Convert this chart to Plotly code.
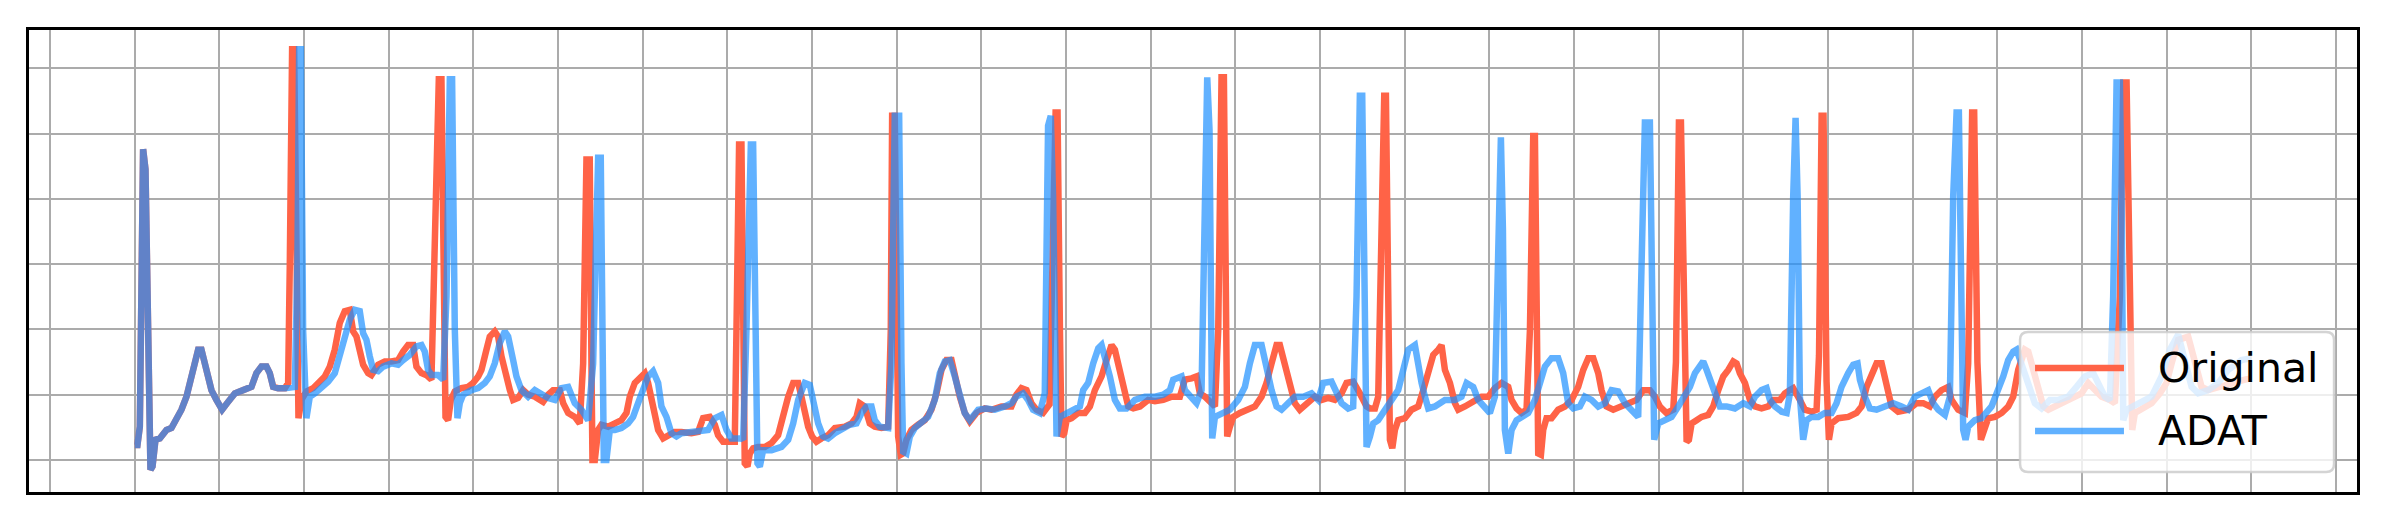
import plotly.graph_objects as go

# ECG segment, 2500 samples (grid every 100), amplitude in grid units
RED = "#FF6347"
BLUE = "rgba(30,144,255,0.7)"

# shared first beat: both signals coincide here
lead = [(0, 0.23), (3.1, 0.23), (5.9, 0.51), (9.8, 4.76), (12.6, 4.45), (15.7, 1.48), (18.5, -0.15),
        (20.9, -0.10), (24.4, 0.31), (29.5, 0.33), (33.4, 0.38), (37.4, 0.46), (43.3, 0.49), (49.2, 0.61),
        (55.1, 0.77), (61.0, 0.97), (68.9, 1.43), (74.8, 1.69), (78.7, 1.69), (82.7, 1.48), (86.6, 1.23),
        (90.5, 1.07), (96.4, 0.92), (103.1, 0.77), (110.2, 0.89), (118.1, 1.02), (128.0, 1.07),
        (137.8, 1.12), (143.7, 1.33), (149.6, 1.43), (155.5, 1.43), (159.4, 1.33), (163.4, 1.12),
        (169.3, 1.10), (177.2, 1.10)]

original = [
    (181.1, 1.18), (183.1, 3.02), (185.8, 6.29), (188.2, 6.29), (191.7, 0.97), (193.3, 0.64), (196.8, 0.92),
    (202.7, 1.05), (210.6, 1.10), (216.5, 1.18), (224.4, 1.28), (230.3, 1.43), (236.2, 1.69), (242.1, 2.10),
    (248.0, 2.28), (253.9, 2.30), (257.9, 1.97), (261.8, 1.89), (265.7, 1.69), (269.7, 1.46), (275.6, 1.33),
    (279.5, 1.30), (287.4, 1.46), (295.3, 1.51), (303.1, 1.51), (311.0, 1.53), (316.9, 1.66), (322.8, 1.76),
    (328.7, 1.76), (332.7, 1.43), (338.6, 1.33), (344.5, 1.30), (350.4, 1.23), (354.4, 3.02), (359.1, 5.83),
    (362.2, 5.83), (365.4, 1.99), (367.0, 0.66), (370.1, 0.61), (373.3, 0.92), (378.0, 1.05), (385.9, 1.10),
    (393.7, 1.12), (399.6, 1.18), (405.6, 1.28), (409.5, 1.38), (415.4, 1.69), (419.3, 1.89), (425.2, 1.97),
    (429.2, 1.89), (433.1, 1.59), (439.0, 1.23), (443.0, 1.07), (446.9, 0.92), (452.8, 0.95), (458.7, 1.07),
    (464.6, 1.00), (472.5, 0.97), (482.3, 0.89), (488.2, 1.00), (494.1, 1.07), (502.0, 1.07), (506.0, 0.87),
    (511.9, 0.72), (519.7, 0.66), (525.6, 0.56), (529.6, 1.48), (533.5, 4.60), (537.4, 4.60), (539.4, 1.48),
    (540.6, 0.00), (543.4, 0.00), (547.3, 0.46), (551.2, 0.54), (559.1, 0.51), (567.0, 0.56), (574.8, 0.61),
    (580.8, 0.72), (584.7, 0.97), (590.6, 1.18), (596.5, 1.25), (602.4, 1.33), (606.3, 1.18), (610.3, 0.92),
    (614.2, 0.61), (618.2, 0.46), (624.1, 0.33), (630.0, 0.38), (637.8, 0.43), (645.7, 0.43), (657.5, 0.41),
    (665.4, 0.43), (671.3, 0.64), (679.2, 0.66), (685.1, 0.54), (689.0, 0.38), (694.9, 0.28), (702.8, 0.28),
    (708.7, 0.28), (710.7, 1.99), (713.8, 4.83), (716.6, 4.83), (718.5, 1.48), (720.5, -0.05), (723.7, -0.10),
    (726.5, 0.10), (730.4, 0.18), (736.3, 0.20), (744.2, 0.20), (752.1, 0.26), (759.9, 0.38), (765.9, 0.72),
    (771.8, 0.97), (777.7, 1.18), (783.6, 1.18), (787.5, 0.97), (791.4, 0.72), (795.4, 0.51), (800.1, 0.36),
    (805.2, 0.28), (811.1, 0.33), (819.0, 0.38), (826.9, 0.49), (838.7, 0.51), (846.6, 0.56), (852.5, 0.66),
    (856.4, 0.87), (862.3, 0.82), (868.2, 0.56), (874.1, 0.51), (882.0, 0.49), (889.9, 0.51), (893.0, 1.99),
    (894.6, 5.27), (897.7, 5.27), (899.7, 2.51), (901.7, 0.36), (904.8, 0.08), (907.6, 0.10), (911.5, 0.31),
    (917.4, 0.46), (925.3, 0.54), (933.2, 0.61), (941.0, 0.77), (947.0, 1.02), (952.9, 1.38), (958.8, 1.53),
    (964.7, 1.53), (968.6, 1.28), (974.5, 0.97), (980.4, 0.72), (986.3, 0.59), (994.2, 0.72), (1004.0, 0.79),
    (1011.9, 0.77), (1023.7, 0.82), (1035.5, 0.82), (1041.4, 1.00), (1047.3, 1.10), (1053.3, 1.07),
    (1059.1, 0.87), (1065.1, 0.77), (1072.9, 0.72), (1078.8, 0.82), (1080.5, 0.85), (1087.7, 5.32),
    (1090.0, 5.32), (1092.8, 1.99), (1094.7, 0.36), (1097.9, 0.41), (1100.7, 0.61), (1106.6, 0.64),
    (1114.4, 0.72), (1122.3, 0.72), (1128.2, 0.82), (1134.1, 1.07), (1142.0, 1.28), (1147.9, 1.53),
    (1153.8, 1.76), (1157.7, 1.69), (1163.6, 1.33), (1167.6, 1.07), (1173.5, 0.82), (1179.4, 0.79),
    (1187.3, 0.82), (1197.1, 0.92), (1205.0, 0.90), (1214.8, 0.92), (1224.7, 0.97), (1234.5, 0.97),
    (1240.4, 1.23), (1248.3, 1.25), (1254.2, 1.28), (1258.1, 1.02), (1264.0, 0.97), (1271.9, 0.87),
    (1275.9, 0.82), (1279.8, 1.99), (1283.7, 5.86), (1286.5, 5.86), (1288.4, 3.02), (1290.4, 0.36),
    (1293.6, 0.51), (1297.5, 0.66), (1305.4, 0.72), (1315.2, 0.77), (1323.1, 0.82), (1331.0, 0.97),
    (1336.9, 1.18), (1342.8, 1.48), (1348.7, 1.76), (1352.6, 1.76), (1358.5, 1.48), (1364.4, 1.18),
    (1370.3, 0.87), (1376.2, 0.77), (1384.1, 0.87), (1394.0, 0.97), (1401.8, 0.92), (1409.7, 0.95),
    (1417.6, 0.92), (1425.5, 1.02), (1431.4, 1.18), (1439.2, 1.20), (1447.1, 1.02), (1455.0, 0.82),
    (1459.0, 0.79), (1464.9, 0.79), (1468.8, 0.97), (1472.8, 3.53), (1475.9, 5.58), (1477.9, 5.58),
    (1479.8, 3.02), (1482.6, 0.31), (1485.4, 0.18), (1488.5, 0.46), (1492.4, 0.61), (1500.3, 0.64),
    (1508.2, 0.77), (1516.1, 0.82), (1522.0, 1.07), (1527.9, 1.38), (1533.8, 1.61), (1539.7, 1.69),
    (1543.6, 1.76), (1547.6, 1.38), (1553.5, 1.18), (1559.4, 0.87), (1563.3, 0.77), (1571.2, 0.82),
    (1581.0, 0.89), (1590.9, 0.97), (1598.7, 0.97), (1606.6, 1.10), (1614.5, 1.18), (1622.4, 1.12),
    (1626.3, 0.92), (1632.2, 0.79), (1638.1, 0.72), (1644.0, 0.77), (1648.0, 1.99), (1651.9, 4.96),
    (1653.9, 4.96), (1655.8, 1.99), (1657.8, 0.10), (1661.0, 0.08), (1663.7, 0.46), (1667.6, 0.64),
    (1673.5, 0.64), (1681.4, 0.77), (1689.3, 0.82), (1697.2, 0.92), (1705.0, 1.12), (1711.0, 1.38),
    (1716.9, 1.56), (1722.8, 1.56), (1728.7, 1.33), (1732.6, 1.07), (1738.5, 0.82), (1746.4, 0.77),
    (1756.2, 0.82), (1766.1, 0.87), (1774.0, 0.92), (1781.8, 1.07), (1789.7, 1.07), (1795.6, 0.97),
    (1801.5, 0.82), (1809.4, 0.72), (1817.3, 0.77), (1820.5, 1.50), (1824.0, 5.17), (1826.4, 5.17),
    (1830.3, 1.48), (1833.1, 0.28), (1835.8, 0.31), (1839.0, 0.56), (1844.9, 0.61), (1850.8, 0.66),
    (1858.6, 0.69), (1864.5, 0.82), (1870.5, 1.07), (1876.4, 1.28), (1882.3, 1.38), (1888.2, 1.51),
    (1892.1, 1.48), (1896.0, 1.33), (1902.0, 1.18), (1907.9, 0.92), (1913.8, 0.82), (1921.6, 0.79),
    (1929.5, 0.82), (1935.4, 0.92), (1943.3, 0.92), (1949.2, 1.02), (1955.1, 1.07), (1959.0, 1.10),
    (1966.9, 0.92), (1972.8, 0.77), (1980.7, 0.74), (1986.6, 0.77), (1989.5, 1.60), (1992.6, 5.27),
    (1994.8, 5.27), (1998.4, 1.20), (2001.2, 0.31), (2004.3, 0.56), (2012.2, 0.64), (2024.0, 0.66),
    (2033.8, 0.72), (2039.8, 0.82), (2045.7, 1.12), (2051.6, 1.33), (2057.5, 1.48), (2063.4, 1.48),
    (2067.3, 1.28), (2071.2, 1.07), (2075.2, 0.82), (2083.0, 0.74), (2094.9, 0.77), (2104.7, 0.87),
    (2112.6, 0.87), (2120.4, 0.82), (2126.4, 0.97), (2134.2, 1.07), (2142.1, 1.12), (2146.0, 0.92),
    (2153.9, 0.77), (2161.8, 0.72), (2165.7, 1.48), (2170.4, 5.32), (2172.8, 5.32), (2176.6, 1.50),
    (2178.5, 0.60), (2180.7, 0.31), (2184.6, 0.46), (2189.4, 0.64), (2197.3, 0.66), (2205.2, 0.72),
    (2213.0, 0.82), (2218.9, 0.97), (2224.8, 1.38), (2232.7, 1.69), (2236.7, 1.66), (2242.6, 1.38),
    (2248.5, 1.07), (2254.4, 0.82), (2260.3, 0.77), (2268.2, 0.82), (2280.0, 0.87), (2291.8, 0.97),
    (2299.6, 1.02), (2307.5, 1.18), (2315.4, 1.07), (2323.3, 0.97), (2333.1, 0.92), (2339.0, 0.87),
    (2344.9, 2.51), (2348.9, 5.78), (2352.8, 5.78), (2356.7, 1.99), (2359.5, 0.46), (2362.6, 0.72),
    (2370.5, 0.77), (2382.3, 0.87), (2392.2, 1.02), (2400.0, 1.18), (2406.0, 1.48), (2413.8, 1.84),
    (2425.6, 1.89), (2433.5, 1.48), (2441.4, 1.12), (2449.3, 1.07), (2461.1, 1.12), (2476.8, 1.18),
    (2492.6, 1.23), (2500.0, 1.25)]

adat = [
    (184.0, 1.12), (189.0, 1.12), (192.1, 3.02), (194.1, 6.29), (196.1, 6.29), (198.8, 1.99), (202.7, 0.64),
    (206.7, 0.97), (212.6, 1.02), (220.5, 1.10), (228.3, 1.20), (236.2, 1.33), (242.1, 1.59), (248.0, 1.89),
    (253.9, 2.15), (259.8, 2.30), (265.7, 2.28), (269.7, 1.94), (273.6, 1.84), (277.5, 1.59), (281.5, 1.38),
    (287.4, 1.36), (293.3, 1.43), (303.1, 1.48), (311.0, 1.46), (316.9, 1.53), (324.8, 1.61), (332.7, 1.74),
    (338.6, 1.76), (342.5, 1.66), (346.4, 1.38), (350.4, 1.30), (358.2, 1.30), (364.2, 1.23), (368.2, 2.51),
    (372.1, 5.83), (374.8, 5.83), (378.0, 1.99), (381.1, 0.64), (383.9, 0.87), (387.8, 1.00), (397.7, 1.07),
    (405.6, 1.10), (413.4, 1.18), (419.3, 1.28), (425.2, 1.48), (431.1, 1.79), (437.1, 1.97), (441.0, 1.89),
    (446.9, 1.53), (450.8, 1.28), (456.7, 1.07), (464.6, 0.97), (472.5, 1.07), (480.4, 1.00), (488.2, 0.95),
    (496.1, 0.92), (504.0, 1.10), (511.9, 1.12), (519.7, 0.87), (527.6, 0.77), (535.5, 0.61), (541.4, 1.48),
    (547.3, 4.63), (550.4, 4.63), (552.4, 1.48), (554.0, 0.00), (557.1, 0.00), (561.1, 0.46), (567.0, 0.46),
    (574.8, 0.49), (582.7, 0.56), (588.6, 0.66), (594.5, 0.87), (600.4, 1.07), (606.3, 1.28), (612.2, 1.36),
    (618.2, 1.18), (622.1, 0.82), (628.0, 0.66), (633.9, 0.41), (639.8, 0.36), (645.7, 0.41), (657.5, 0.43),
    (669.3, 0.43), (677.2, 0.46), (685.1, 0.64), (693.0, 0.69), (698.9, 0.46), (704.8, 0.33), (716.6, 0.33),
    (718.6, 0.31), (722.5, 1.99), (727.7, 4.83), (730.4, 4.83), (732.4, 2.51), (735.5, -0.05), (738.3, -0.10),
    (742.2, 0.15), (752.1, 0.15), (763.9, 0.20), (771.8, 0.31), (777.7, 0.56), (783.6, 0.92), (791.4, 1.18),
    (797.3, 1.15), (803.3, 0.77), (807.2, 0.56), (813.1, 0.36), (819.0, 0.33), (826.9, 0.41), (834.7, 0.46),
    (844.6, 0.54), (852.5, 0.56), (858.4, 0.72), (864.3, 0.82), (870.2, 0.82), (874.1, 0.61), (880.0, 0.51),
    (889.9, 0.49), (893.8, 1.48), (897.7, 5.27), (902.9, 5.27), (905.6, 1.48), (907.6, 0.13), (911.5, 0.10),
    (915.5, 0.36), (921.4, 0.49), (929.2, 0.56), (937.1, 0.66), (945.0, 0.92), (950.9, 1.33), (956.8, 1.51),
    (962.7, 1.53), (968.6, 1.28), (974.5, 0.97), (980.4, 0.72), (986.3, 0.61), (996.2, 0.77), (1006.0, 0.79),
    (1015.8, 0.77), (1027.7, 0.82), (1035.5, 0.87), (1041.4, 0.97), (1049.3, 1.02), (1055.2, 0.92),
    (1061.1, 0.77), (1069.0, 0.72), (1074.9, 1.02), (1078.8, 5.12), (1082.0, 5.27), (1084.7, 4.04),
    (1086.9, 0.97), (1088.8, 0.36), (1092.8, 0.66), (1100.7, 0.72), (1110.5, 0.77), (1116.4, 0.82),
    (1120.3, 1.07), (1126.2, 1.18), (1132.1, 1.48), (1138.1, 1.71), (1142.0, 1.76), (1145.9, 1.59),
    (1151.8, 1.28), (1157.7, 0.92), (1163.6, 0.79), (1171.5, 0.79), (1181.4, 0.92), (1193.2, 0.97),
    (1205.0, 0.97), (1214.8, 1.00), (1222.7, 1.07), (1226.6, 1.23), (1236.5, 1.28), (1240.4, 1.07),
    (1246.3, 0.97), (1254.2, 0.87), (1260.1, 1.07), (1264.0, 4.55), (1266.8, 5.86), (1269.5, 5.06),
    (1271.1, 1.48), (1272.7, 0.33), (1275.9, 0.66), (1283.7, 0.72), (1293.6, 0.77), (1303.4, 0.92),
    (1311.3, 1.12), (1317.2, 1.48), (1323.1, 1.76), (1331.0, 1.76), (1336.9, 1.38), (1342.8, 1.07),
    (1348.7, 0.82), (1354.6, 0.77), (1362.5, 0.87), (1370.3, 0.97), (1380.2, 0.97), (1390.0, 1.02),
    (1397.9, 0.92), (1403.8, 1.18), (1413.6, 1.20), (1419.6, 1.02), (1425.5, 0.87), (1433.3, 0.79),
    (1439.2, 0.82), (1443.2, 2.51), (1447.1, 5.58), (1449.9, 5.58), (1452.2, 2.51), (1453.8, 0.20),
    (1455.0, 0.20), (1459.0, 0.36), (1462.9, 0.56), (1468.8, 0.61), (1476.7, 0.77), (1484.6, 0.92),
    (1492.4, 1.07), (1498.4, 1.38), (1504.3, 1.69), (1512.1, 1.76), (1516.1, 1.38), (1520.0, 1.18),
    (1524.0, 0.97), (1527.9, 0.79), (1535.8, 0.82), (1547.6, 0.92), (1559.4, 0.92), (1567.2, 0.97),
    (1573.2, 1.18), (1581.0, 1.12), (1586.9, 0.92), (1594.8, 0.82), (1600.7, 0.72), (1606.6, 0.97),
    (1610.6, 3.53), (1613.7, 4.94), (1616.1, 3.53), (1618.4, 0.46), (1622.4, 0.10), (1626.3, 0.46),
    (1632.2, 0.61), (1638.1, 0.66), (1646.0, 0.72), (1653.9, 0.92), (1659.8, 1.18), (1665.7, 1.43),
    (1673.5, 1.56), (1681.4, 1.56), (1687.3, 1.33), (1693.2, 0.87), (1699.1, 0.79), (1707.0, 0.82),
    (1712.9, 0.97), (1720.8, 0.92), (1728.7, 0.82), (1736.5, 0.87), (1744.4, 1.07), (1752.3, 1.05),
    (1760.2, 0.87), (1768.0, 0.77), (1775.9, 0.66), (1779.1, 2.56), (1783.8, 5.17), (1789.7, 5.17),
    (1791.6, 2.51), (1794.8, 0.31), (1799.5, 0.56), (1807.4, 0.61), (1815.3, 0.66), (1823.2, 0.82),
    (1831.1, 0.97), (1837.0, 1.12), (1842.9, 1.33), (1848.8, 1.46), (1852.7, 1.51), (1856.7, 1.38),
    (1860.6, 1.23), (1866.5, 1.02), (1872.4, 0.82), (1880.3, 0.82), (1890.1, 0.79), (1900.0, 0.87),
    (1907.9, 0.82), (1913.8, 0.97), (1921.6, 1.07), (1927.5, 1.10), (1931.5, 0.92), (1937.4, 0.82),
    (1945.3, 0.74), (1951.2, 0.72), (1955.1, 1.02), (1959.0, 4.04), (1961.8, 5.24), (1964.2, 4.04),
    (1966.9, 0.97), (1970.8, 0.31), (1974.8, 0.61), (1980.7, 0.66), (1988.6, 0.66), (1996.4, 0.72),
    (2004.3, 0.72), (2010.2, 0.87), (2016.1, 1.12), (2024.0, 1.33), (2029.9, 1.46), (2035.0, 1.48),
    (2037.8, 1.23), (2043.7, 0.97), (2049.6, 0.79), (2057.5, 0.77), (2067.3, 0.82), (2077.2, 0.87),
    (2087.0, 0.82), (2094.9, 0.77), (2102.7, 0.97), (2110.6, 1.02), (2118.5, 1.07), (2124.4, 0.87),
    (2130.3, 0.77), (2138.2, 0.69), (2144.1, 0.97), (2148.0, 4.04), (2152.0, 5.32), (2154.7, 5.32),
    (2157.1, 3.53), (2159.8, 0.46), (2162.6, 0.31), (2165.7, 0.51), (2173.6, 0.61), (2181.5, 0.64),
    (2193.3, 0.82), (2201.2, 1.07), (2207.1, 1.28), (2213.0, 1.53), (2218.9, 1.66), (2222.9, 1.69),
    (2228.8, 1.48), (2236.7, 1.18), (2244.5, 0.87), (2252.4, 0.79), (2262.2, 0.92), (2272.1, 0.92),
    (2283.9, 0.97), (2293.7, 1.12), (2303.6, 1.28), (2313.4, 1.33), (2319.3, 1.18), (2327.2, 0.97),
    (2333.1, 0.92), (2337.0, 2.51), (2341.0, 5.78), (2344.9, 5.78), (2346.9, 4.04), (2348.9, 0.61),
    (2352.8, 0.77), (2360.7, 0.82), (2370.5, 0.87), (2382.3, 0.97), (2394.1, 1.28), (2404.0, 1.69),
    (2413.8, 1.92), (2421.7, 1.48), (2429.6, 1.12), (2437.4, 1.02), (2449.3, 1.07), (2461.1, 1.18),
    (2472.9, 1.38), (2488.7, 1.53), (2500.0, 1.56)]

legend_names = ["Original", "ADAT"]

orig_x, orig_y = zip(*(lead + original))
adat_x, adat_y = zip(*(lead + adat))

fig = go.Figure()
fig.add_trace(go.Scatter(x=orig_x, y=orig_y, mode="lines", name=legend_names[0],
                         line=dict(color=RED, width=6.5)))
fig.add_trace(go.Scatter(x=adat_x, y=adat_y, mode="lines", name=legend_names[1],
                         line=dict(color=BLUE, width=6.5)))

ax = dict(showgrid=True, gridcolor="#ababab", gridwidth=1.5, zeroline=False,
          showticklabels=False, ticks="", showline=True, mirror=True,
          linecolor="black", linewidth=2.6)
fig.update_xaxes(range=[-125, 2625], tick0=0, dtick=100, **ax)
fig.update_yaxes(range=[-0.49, 6.585], tick0=0, dtick=1, **ax)

# matplotlib-style legend box, lower right
box = ("M -149,-70 L 149,-70 Q 157,-70 157,-62 L 157,62 Q 157,70 149,70 "
       "L -149,70 Q -157,70 -157,62 L -157,-62 Q -157,-70 -149,-70 Z")
shapes = [dict(type="path", xref="paper", yref="paper", xsizemode="pixel", ysizemode="pixel",
               xanchor=0.9227, yanchor=0.1948, path=box, fillcolor="rgba(255,255,255,0.8)",
               line=dict(color="rgba(204,204,204,0.85)", width=2.5), layer="above")]
annots = []
for name, col, yy in zip(legend_names, [RED, BLUE], [0.2684, 0.1320]):
    shapes.append(dict(type="line", xref="paper", yref="paper", x0=0.8617, x1=0.8999, y0=yy, y1=yy,
                       line=dict(color=col, width=6.5), layer="above"))
    annots.append(dict(text=name, xref="paper", yref="paper", x=0.9137, y=yy, xanchor="left",
                       yanchor="middle", showarrow=False,
                       font=dict(family="DejaVu Sans", size=41, color="black")))

# page body keeps an 8px margin, so the figure is sized to fit inside it
fig.update_layout(width=2369, height=506, margin=dict(l=21, r=20, t=22, b=22),
                  plot_bgcolor="white", paper_bgcolor="white", showlegend=False,
                  shapes=shapes, annotations=annots)

fig.write_html("out.html")
